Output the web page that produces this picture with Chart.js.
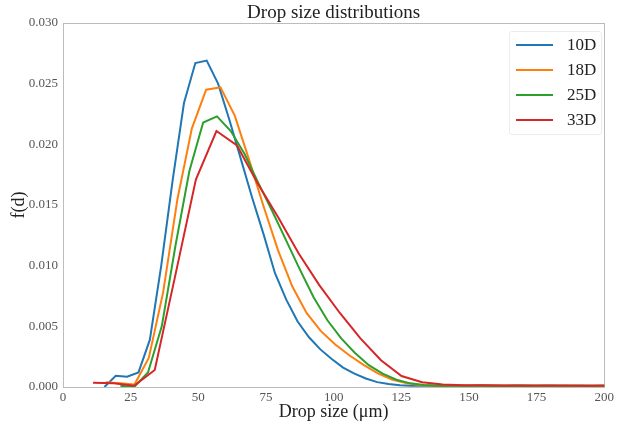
<!DOCTYPE html>
<html>
<head>
<meta charset="utf-8">
<script src="https://cdn.jsdelivr.net/npm/chart.js@4.4.1/dist/chart.umd.min.js"></script>
<style>
  html, body { margin: 0; padding: 0; background: #fff; }
  #wrap { position: relative; width: 617px; height: 428px; }
  #legend {
    position: absolute; left: 509px; top: 31px; width: 93px; height: 104px;
    border: 1px solid #ececec; border-radius: 3px; background: rgba(255,255,255,0.85);
    box-sizing: border-box; font-family: 'Liberation Serif', 'DejaVu Serif', serif;
    font-size: 17px; color: #222;
  }
  .row { position: absolute; left: 0; width: 100%; height: 20px; }
  .swatch { position: absolute; left: 6px; top: 9px; width: 37px; height: 2px; }
  .lab { position: absolute; left: 57px; top: 0; line-height: 20px; }
</style>
</head>
<body>
<div id="wrap">
  <canvas id="c" width="617" height="428"></canvas>
  <div id="legend"></div>
</div>
<script>
// Drop size bin centres (µm) and measured probability densities per station
const sizes10D = [15.3, 19.5, 23.7, 27.9, 32.1, 36.3, 40.5, 44.7, 48.9, 53.1, 57.3, 61.5, 65.7, 69.9, 74.1,
  78.3, 82.5, 86.7, 90.9, 95.1, 99.3, 103.5, 107.7, 111.9, 116.1, 120.3, 124.5, 128.7, 132.9, 137.1,
  141.3, 145.5, 149.7, 153.9, 158.1, 162.3, 166.5, 170.7, 174.9, 179.1, 183.3, 187.5, 191.7, 195.9, 200.1];
const pdf10D = [0.0000, 0.00093, 0.00085, 0.0012, 0.0039, 0.0100, 0.0170, 0.0234, 0.0267, 0.0269, 0.0250,
  0.0220, 0.0188, 0.0156, 0.0126, 0.0094, 0.0072, 0.0054, 0.0041, 0.0031, 0.0023, 0.0016, 0.0011, 0.0007,
  0.0004, 0.00025, 0.00015, 0.00011, 0.0001, 0.0001, 0.00009, 0.0001, 0.00009, 0.0001, 0.00009, 0.00009,
  0.0001, 0.00009, 0.00009, 0.0001, 0.00009, 0.00009, 0.0001, 0.00009, 0.00009];

const sizes18D = [15.8, 21.1, 26.4, 31.7, 37.0, 42.3, 47.6, 52.9, 58.2, 63.5, 68.8, 74.1, 79.4, 84.7, 90.0,
  95.3, 100.6, 105.9, 111.2, 116.5, 121.8, 127.1, 132.4, 137.7, 143.0, 148.3, 153.6, 158.9, 164.2, 169.5,
  174.8, 180.1, 185.4, 190.7, 196.0, 201.3];
const pdf18D = [0.0004, 0.0003, 0.0002, 0.0024, 0.0078, 0.0155, 0.0213, 0.0245, 0.0247, 0.02235, 0.0187,
  0.0149, 0.0113, 0.0083, 0.0061, 0.0046, 0.0035, 0.0026, 0.0018, 0.0011, 0.0006, 0.0003, 0.00015, 0.00011,
  0.0001, 0.00011, 0.0001, 0.00012, 0.0001, 0.00011, 0.0001, 0.0001, 0.00011, 0.0001, 0.0001, 0.0001];

const sizes25D = [21.2, 26.3, 31.4, 36.5, 41.6, 46.7, 51.8, 56.9, 62.0, 67.1, 72.2, 77.3, 82.4, 87.5, 92.6,
  97.7, 102.8, 107.9, 113.0, 118.1, 123.2, 128.3, 133.4, 138.5, 143.6, 148.7, 153.8, 158.9, 164.0, 169.1,
  174.2, 179.3, 184.4, 189.5, 194.6, 199.7, 204.8];
const pdf25D = [0.0001, 0.0000, 0.0012, 0.0050, 0.0117, 0.0178, 0.0218, 0.0223, 0.0211, 0.0192, 0.0168,
  0.0145, 0.0121, 0.0097, 0.0074, 0.0055, 0.0040, 0.0028, 0.0018, 0.0011, 0.0006, 0.0003, 0.00016, 0.00011,
  0.00012, 0.0001, 0.00012, 0.00011, 0.0001, 0.00012, 0.00011, 0.0001, 0.00011, 0.0001, 0.00011, 0.0001, 0.0001];

const sizes33D = [11.1, 18.7, 26.3, 33.9, 41.5, 49.1, 56.7, 64.3, 71.9, 79.5, 87.1, 94.7, 102.3, 109.9,
  117.5, 125.1, 132.7, 140.3, 147.9, 155.5, 163.1, 170.7, 178.3, 185.9, 193.5, 201.1];
const pdf33D = [0.00035, 0.0003, 0.0001, 0.0014, 0.0092, 0.0171, 0.0211, 0.0199, 0.0168, 0.0140, 0.0110,
  0.0084, 0.0061, 0.0040, 0.0022, 0.0009, 0.0004, 0.0002, 0.00014, 0.00014, 0.00012, 0.00013, 0.00012,
  0.00012, 0.00011, 0.00012];

const seriesNames = ['10D', '18D', '25D', '33D'];
const seriesColors = ['#1f77b4', '#ff7f0e', '#2ca02c', '#d62728'];
const xTicks = [0, 25, 50, 75, 100, 125, 150, 175, 200];
const yTicks = [0, 0.005, 0.010, 0.015, 0.020, 0.025, 0.030];

const serif = "'Liberation Serif', 'DejaVu Serif', serif";

function pairs(xs, ys) {
  return xs.map((x, i) => ({ x: x, y: ys[i] }));
}

const allSizes = [sizes10D, sizes18D, sizes25D, sizes33D];
const allPdf = [pdf10D, pdf18D, pdf25D, pdf33D];

const datasets = seriesNames.map((name, i) => ({
  label: name,
  data: pairs(allSizes[i], allPdf[i]),
  borderColor: seriesColors[i],
  backgroundColor: seriesColors[i],
  borderWidth: 2,
  pointRadius: 0,
  tension: 0,
  fill: false,
  order: seriesNames.length - i   // later series drawn on top
}));

// Light grey box around the plotting area
const frame = {
  id: 'frame',
  beforeDatasetsDraw(chart) {
    const a = chart.chartArea, ctx = chart.ctx;
    ctx.save();
    ctx.strokeStyle = '#bcbcbc';
    ctx.lineWidth = 1;
    ctx.strokeRect(Math.round(a.left) + 0.5, Math.round(a.top) + 0.5,
      Math.round(a.right - a.left), Math.round(a.bottom - a.top));
    ctx.restore();
  }
};

const chart = new Chart(document.getElementById('c'), {
  type: 'line',
  data: { datasets: datasets },
  plugins: [frame],
  options: {
    responsive: false,
    animation: false,
    layout: { autoPadding: false, padding: { left: 0, right: 6, top: 0, bottom: 0 } },
    plugins: {
      legend: { display: false },
      tooltip: { enabled: false },
      title: {
        display: true,
        text: 'Drop size distributions',
        fullSize: false,
        color: '#222',
        font: { family: serif, size: 19, weight: 'normal', lineHeight: 1.0 },
        padding: { top: 4, bottom: 0 }
      }
    },
    scales: {
      x: {
        type: 'linear',
        min: 0, max: 200,
        afterBuildTicks(scale) { scale.ticks = xTicks.map(v => ({ value: v })); },
        afterFit(scale) { scale.height = 41; },
        grid: { display: false, drawTicks: false, tickLength: 0 },
        border: { display: false },
        ticks: { color: '#555', padding: 3, font: { family: serif, size: 13 }, maxRotation: 0,
          callback: v => String(v) },
        title: { display: true, text: 'Drop size (μm)', color: '#222',
          font: { family: serif, size: 18 }, padding: { top: 0, bottom: 5 } }
      },
      y: {
        min: 0, max: 0.03,
        afterBuildTicks(scale) { scale.ticks = yTicks.map(v => ({ value: v })); },
        afterFit(scale) { scale.width = 63; },
        grid: { display: false, drawTicks: false, tickLength: 0 },
        border: { display: false },
        ticks: { color: '#555', padding: 5, font: { family: serif, size: 13 },
          callback: v => Number(v).toFixed(3) },
        title: { display: true, text: 'f(d)', color: '#222',
          font: { family: serif, size: 18 }, padding: { top: 8, bottom: 0 } }
      }
    }
  }
});

// Legend box in the upper right corner, built from the chart's datasets
const legendEl = document.getElementById('legend');
chart.data.datasets.forEach((ds, i) => {
  const row = document.createElement('div');
  row.className = 'row';
  row.style.top = (3 + i * 25) + 'px';
  const sw = document.createElement('div');
  sw.className = 'swatch';
  sw.style.background = ds.borderColor;
  const lab = document.createElement('div');
  lab.className = 'lab';
  lab.textContent = ds.label;
  row.appendChild(sw);
  row.appendChild(lab);
  legendEl.appendChild(row);
});
</script>
</body>
</html>
